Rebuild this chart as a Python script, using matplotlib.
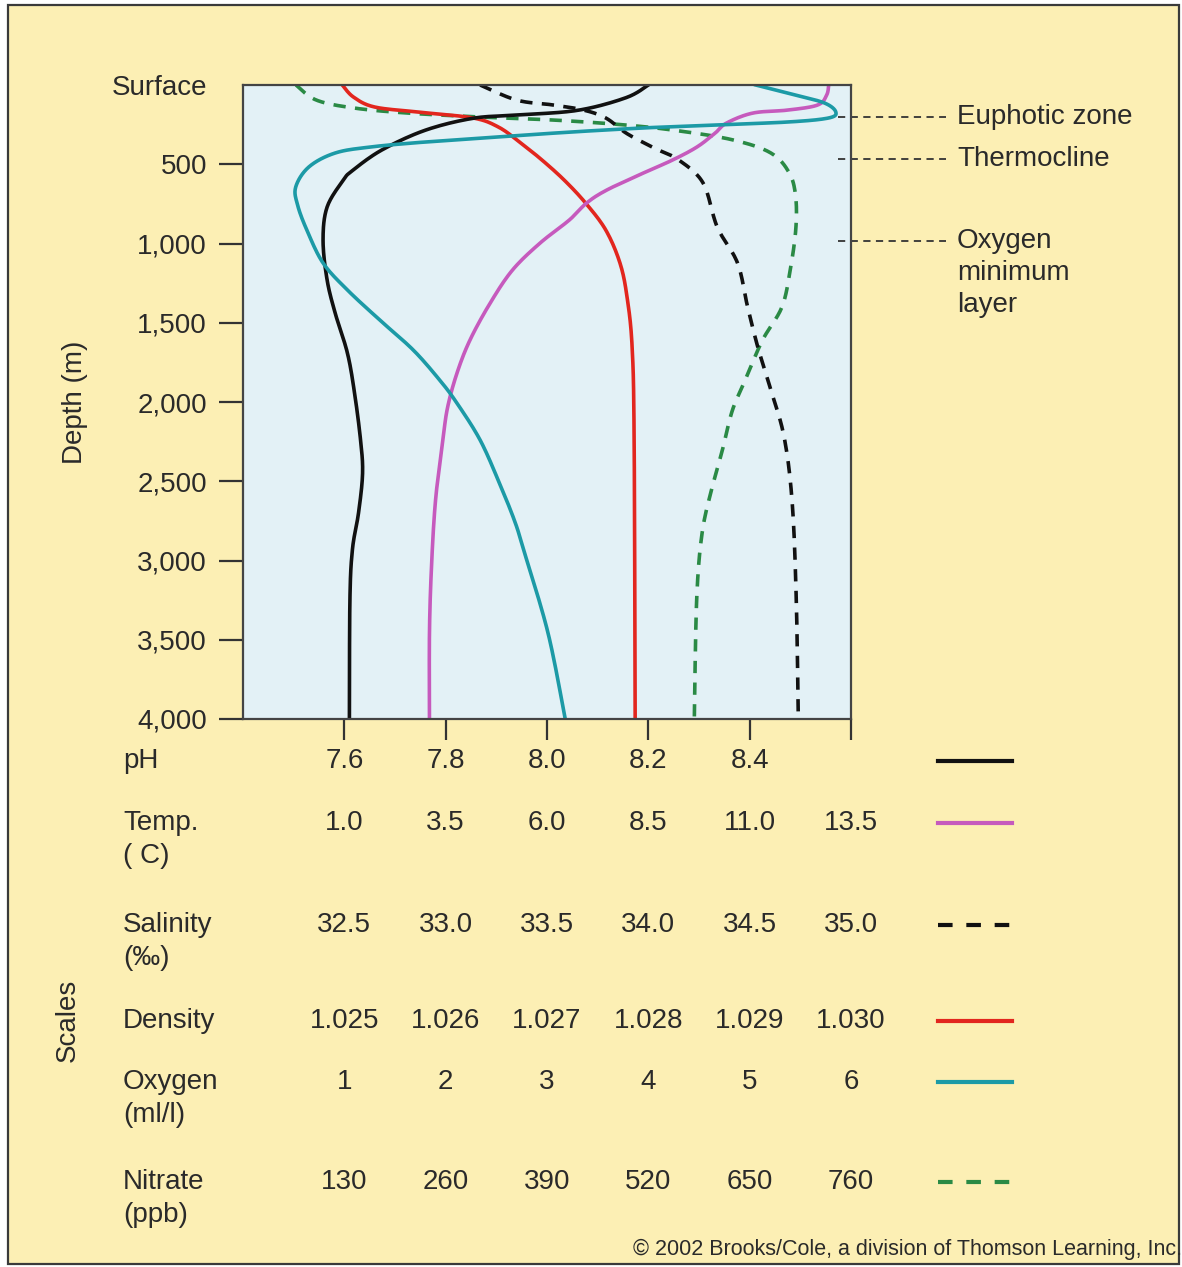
import numpy as np
import matplotlib
matplotlib.use("Agg")
import matplotlib.pyplot as plt
import matplotlib.transforms as mtransforms
from matplotlib.patches import Rectangle

plt.rcParams['font.family'] = ['Liberation Sans', 'DejaVu Sans']

# --- profiles (depth in m) ---
ph_depth = [0, 80, 160, 190, 210, 285, 410, 540, 600, 770, 980, 1230, 1440, 1690, 1940, 2240, 2450,
            2700, 2930, 3250, 4000]
ph_vals = [8.20, 8.156, 8.06, 7.938, 7.854, 7.76, 7.674, 7.616, 7.598, 7.566, 7.558, 7.566, 7.582, 7.606,
           7.62, 7.632, 7.636, 7.628, 7.616, 7.611, 7.61]

temp_depth = [0, 63, 126, 158, 177, 240, 303, 391, 473, 555, 662, 744, 852, 997, 1167, 1375, 1609, 1817,
              2031, 2240, 2620, 3040, 3460, 4000]
temp_vals = [12.95, 12.9, 12.68, 11.95, 11.08, 10.43, 10.15, 9.7, 9.1, 8.38, 7.48, 6.98, 6.55, 5.83, 5.15,
             4.6, 4.1, 3.78, 3.55, 3.43, 3.25, 3.15, 3.1, 3.1]

sal_depth = [0, 95, 126, 158, 208, 303, 379, 410, 473, 618, 896, 1123, 1401, 1653, 1905, 2221, 2637, 3249, 4000]
sal_vals = [33.17, 33.35, 33.53, 33.68, 33.79, 33.89, 34.0, 34.05, 34.15, 34.27, 34.34, 34.44, 34.49, 34.54,
            34.6, 34.67, 34.71, 34.73, 34.74]

dens_depth = [0, 76, 139, 172, 208, 265, 360, 473, 600, 744, 915, 1123, 1338, 1653, 2240, 4000]
dens_vals = [1.02498, 1.02509, 1.02530, 1.02575, 1.02627, 1.02652, 1.02673, 1.02695, 1.02717, 1.02738,
             1.02758, 1.02772, 1.02779, 1.02784, 1.02786, 1.02787]

ox_depth = [0, 63, 114, 170, 208, 233, 252, 271, 297, 328, 360, 391, 429, 517, 644, 760, 915, 1123, 1293,
            1483, 1672, 1861, 2006, 2240, 2511, 2750, 2934, 3457, 4000]
ox_vals = [5.06, 5.45, 5.74, 5.85, 5.78, 5.39, 4.66, 3.95, 3.23, 2.51, 1.79, 1.26, 0.91, 0.65, 0.52, 0.54,
           0.63, 0.79, 1.03, 1.35, 1.68, 1.94, 2.11, 2.34, 2.53, 2.68, 2.77, 3.01, 3.18]

nit_depth = [0, 95, 145, 177, 202, 221, 252, 290, 347, 429, 555, 707, 915, 1167, 1401, 1609, 1842, 2050,
             2303, 2536, 2826, 3249, 4000]
nit_vals = [68, 94, 142, 211, 304, 398, 490, 560, 629, 673, 693, 700, 700, 694, 685, 664, 646, 628, 615,
            602, 589, 582, 579]

depth_ticks = [0, 500, 1000, 1500, 2000, 2500, 3000, 3500, 4000]
depth_labels = ["Surface", "500", "1,000", "1,500", "2,000", "2,500", "3,000", "3,500", "4,000"]

row_names = ["pH", "Temp.\n( C)", "Salinity\n(\u2030)", "Density", "Oxygen\n(ml/l)", "Nitrate\n(ppb)"]
ph_ticks = ["7.6", "7.8", "8.0", "8.2", "8.4", ""]
temp_ticks = ["1.0", "3.5", "6.0", "8.5", "11.0", "13.5"]
sal_ticks = ["32.5", "33.0", "33.5", "34.0", "34.5", "35.0"]
dens_ticks = ["1.025", "1.026", "1.027", "1.028", "1.029", "1.030"]
ox_ticks = ["1", "2", "3", "4", "5", "6"]
nit_ticks = ["130", "260", "390", "520", "650", "760"]

zone_names = ["Euphotic zone", "Thermocline", "Oxygen\nminimum\nlayer"]
zone_depths = [200, 470, 985]

# colours
BG = '#fcefb4'
PLOT_BG = '#e3f1f6'
TXT = '#2a2a2a'
c_ph = '#111111'
c_temp = '#c65abd'
c_sal = '#111111'
c_dens = '#e2261e'
c_ox = '#1c9aa6'
c_nit = '#2a8a45'


def smooth(xs, ds, n=16):
    # catmull-rom through the read points (depth scaled to match x on screen)
    pts = np.column_stack([np.asarray(xs, float), np.asarray(ds, float) / 640.0])
    p = np.vstack([pts[0], pts, pts[-1]])
    out = []
    t = np.linspace(0, 1, n, endpoint=False)[:, None]
    for i in range(1, len(p) - 2):
        p0, p1, p2, p3 = p[i - 1], p[i], p[i + 1], p[i + 2]
        seg = 0.5 * (2 * p1 + (-p0 + p2) * t + (2 * p0 - 5 * p1 + 4 * p2 - p3) * t ** 2
                     + (-p0 + 3 * p1 - 3 * p2 + p3) * t ** 3)
        out.append(seg)
    out.append(pts[-1][None])
    arr = np.vstack(out)
    return arr[:, 0], arr[:, 1] * 640.0


W, H = 1182, 1267
fig = plt.figure(figsize=(W / 100, H / 100), dpi=100, facecolor='white')

def fx(px):
    return px / W

def fy(py):
    return 1 - py / H

# yellow card with dark frame
card = Rectangle((fx(8), fy(1264)), fx(1179) - fx(8), fy(5) - fy(1264), transform=fig.transFigure,
                 facecolor=BG, edgecolor='#3a3a3a', lw=1.6, zorder=-10)
fig.add_artist(card)

ax = fig.add_axes([fx(243), fy(719), fx(851) - fx(243), fy(85) - fy(719)])
ax.set_facecolor(PLOT_BG)
ax.set_xlim(0, 6)
ax.set_ylim(4000, 0)

lw = 2.6
# every variable onto the shared 0..6 scale position
x_ph = (np.array(ph_vals) - 7.4) / 0.2
x_temp = (np.array(temp_vals) + 1.5) / 2.5
x_sal = (np.array(sal_vals) - 32.0) / 0.5
x_dens = (np.array(dens_vals) - 1.024) / 0.001
x_ox = np.array(ox_vals)
x_nit = np.interp(nit_vals, [0, 130, 260, 390, 520, 650, 760], [0, 1, 2, 3, 4, 5, 6])

for xs, ds, col, ls in [(x_nit, nit_depth, c_nit, 'dash'),
                        (x_sal, sal_depth, c_sal, 'dash'),
                        (x_dens, dens_depth, c_dens, '-'),
                        (x_temp, temp_depth, c_temp, '-'),
                        (x_ph, ph_depth, c_ph, '-'),
                        (x_ox, ox_depth, c_ox, '-')]:
    sx, sd = smooth(xs, ds)
    if ls == 'dash':
        ax.plot(sx, sd, color=col, lw=lw, dashes=(3.4, 2.6), solid_capstyle='butt')
    else:
        ax.plot(sx, sd, color=col, lw=lw)

# axes styling
for s in ax.spines.values():
    s.set_color('#444444')
    s.set_linewidth(1.6)
ax.set_yticks(depth_ticks)
ax.set_yticklabels(depth_labels)
ax.tick_params(axis='y', direction='out', length=17, width=1.6, color='#333333', pad=9,
               labelsize=20, labelcolor=TXT)
ax.yaxis.get_major_ticks()[0].tick1line.set_visible(False)
ax.set_xticks([1, 2, 3, 4, 5, 6])
ax.set_xticklabels([])
ax.tick_params(axis='x', direction='out', length=15, width=1.6, color='#333333')

fig.text(fx(75), fy(402), "Depth (m)", rotation=90, ha='center', va='center', fontsize=20, color=TXT)
fig.text(fx(68), fy(1020), "Scales", rotation=90, ha='center', va='center', fontsize=20, color=TXT)

# zone call-outs
zone_tr = mtransforms.blended_transform_factory(fig.transFigure, ax.transData)
for name, d in zip(zone_names, zone_depths):
    ax.plot([fx(838), fx(946)], [d, d], transform=zone_tr, color='#333333', lw=1.3,
            dashes=(4, 3), clip_on=False)
    first, *rest = name.split("\n")
    ax.text(fx(957), d, first, transform=zone_tr, ha='left', va='center', fontsize=20, color=TXT)
    for k, line in enumerate(rest):
        ax.text(fx(957), d + (k + 1) * 32 * 4000 / 634, line, transform=zone_tr,
                ha='left', va='center', fontsize=20, color=TXT)

# scale table under the plot
row_y = [761, 823, 925, 1021, 1082, 1182]
row_ticks = [ph_ticks, temp_ticks, sal_ticks, dens_ticks, ox_ticks, nit_ticks]
row_cols = [c_ph, c_temp, c_sal, c_dens, c_ox, c_nit]
row_dash = [False, False, True, False, False, True]
tab_tr = mtransforms.blended_transform_factory(ax.transData, fig.transFigure)
for name, py, labels, col, dashed in zip(row_names, row_y, row_ticks, row_cols, row_dash):
    for k, line in enumerate(name.split("\n")):
        fig.text(fx(123), fy(py + k * 33), line, ha='left', va='center', fontsize=20, color=TXT)
    for pos, lab in zip([1, 2, 3, 4, 5, 6], labels):
        fig.text(pos, fy(py), lab, transform=tab_tr, ha='center', va='center', fontsize=20, color=TXT)
    ln = plt.Line2D([fx(938), fx(1012)], [fy(py), fy(py)], transform=fig.transFigure, color=col, lw=3)
    if dashed:
        ln.set_dashes((3.5, 3.3))
        ln.set_solid_capstyle('butt')
    fig.add_artist(ln)

fig.text(fx(1182), fy(1249), "\u00a9 2002 Brooks/Cole, a division of Thomson Learning, Inc.",
         ha='right', va='center', fontsize=15.5, color=TXT)

fig.savefig('out.png', dpi=100, facecolor='white')
